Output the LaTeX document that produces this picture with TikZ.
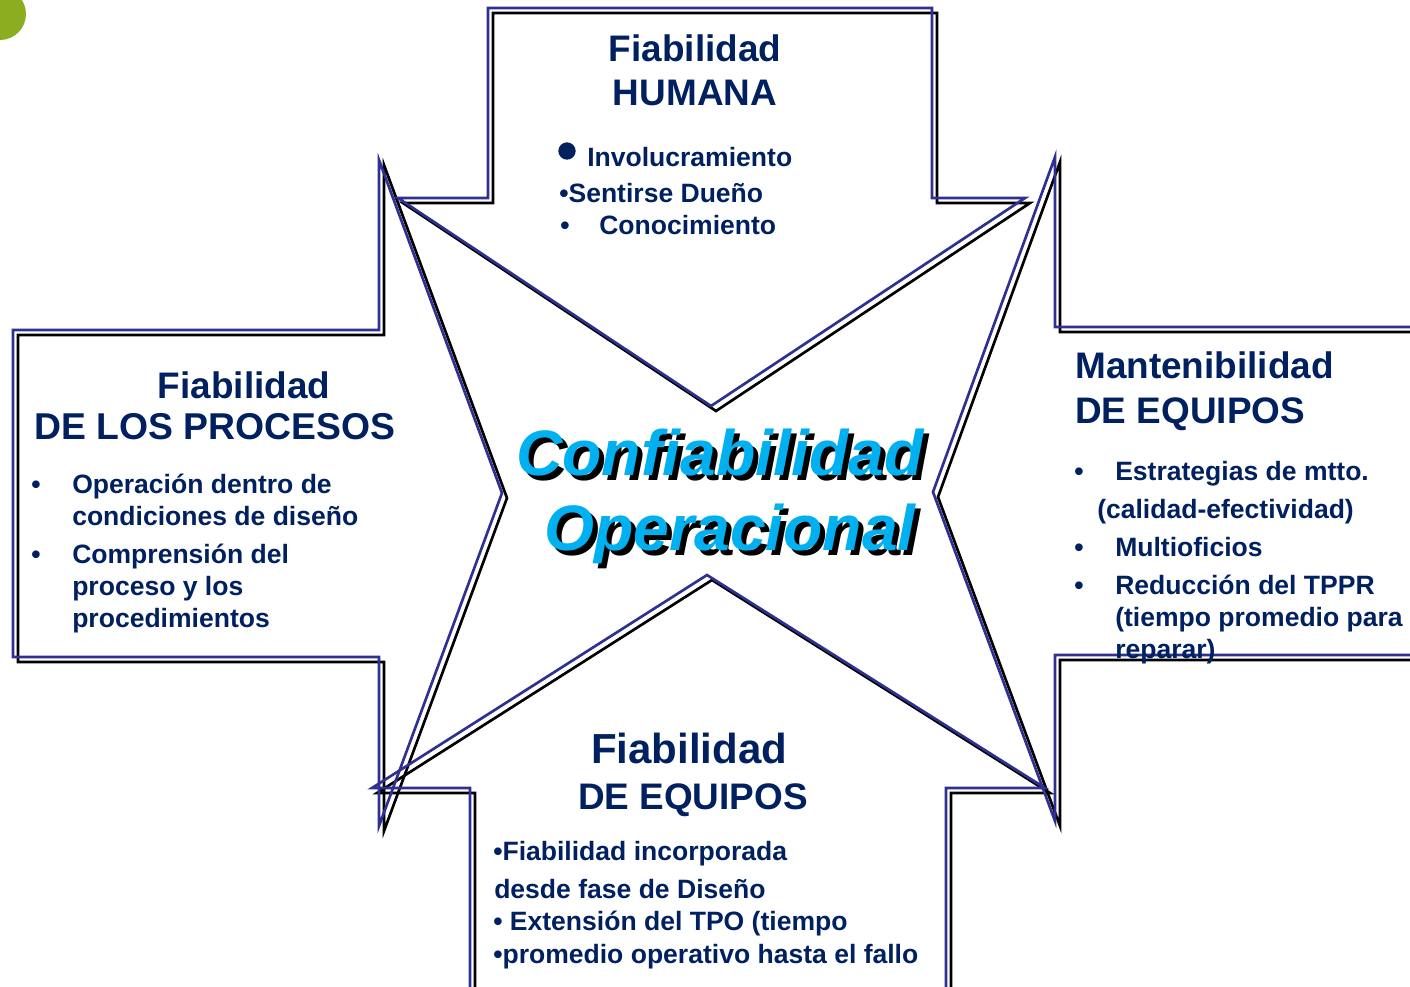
\documentclass[tikz,border=0pt]{standalone}
\usepackage{fontspec}
\setmainfont{Liberation Sans}
\definecolor{navyline}{RGB}{46,49,146}
\definecolor{navytext}{RGB}{0,32,96}
\definecolor{cyantext}{RGB}{0,176,240}
\definecolor{olivegreen}{RGB}{141,173,32}
\newcommand\myarrowshapes[1]{%
  \draw[#1] (488,8) -- (932,8) -- (932,198) -- (1025,198) -- (711,406) -- (398,198) -- (488,198) -- cycle;
  \draw[#1] (13,330) -- (379,330) -- (379,160) -- (502,493) -- (379,826) -- (379,657) -- (13,657) -- cycle;
  \draw[#1] (1430,327) -- (1055,327) -- (1055,157) -- (933,492) -- (1055,821) -- (1055,655) -- (1430,655);
  \draw[#1] (470,1010) -- (470,788) -- (372,788) -- (707,575) -- (1045,788) -- (946,788) -- (946,1010);
}
\tikzset{
  outline/.style={line width=2pt, line join=miter},
  body/.style={inner sep=0pt, anchor=base west, text=navytext, font=\bfseries\fontsize{19.9pt}{24pt}\selectfont},
  title/.style={inner sep=0pt, text=navytext, font=\bfseries\fontsize{27.7pt}{32pt}\selectfont},
  big/.style={inner sep=0pt, anchor=base west, font=\bfseries\itshape\fontsize{48.2pt}{56pt}\selectfont},
}
\begin{document}
\begin{tikzpicture}[x=0.75pt,y=-0.75pt]
\useasboundingbox (0,0) rectangle (1410,986);
\clip (0,0) rectangle (1410,986);
\fill[olivegreen] (0,14) circle (26);
% shadows then outlines
\begin{scope}[shift={(5,5)}]
  \myarrowshapes{outline, black}
\end{scope}
\myarrowshapes{outline, navyline}
% central title
\node[big, text=black] (c1s) at (521,480) {Confiabilidad};
\node[big, text=black] (c2s) at (549,555) {Operacional};
\node[big, text=cyantext] (c1) at (516,475) {Confiabilidad};
\node[big, text=cyantext] (c2) at (544,550) {Operacional};
% top
\node[title, anchor=base] (t1) at (695,61) {Fiabilidad};
\node[title, anchor=base] (t2) at (695,105) {HUMANA};
\node[circle, fill=navytext, inner sep=0pt, minimum size=13] (tb1) at (567,151) {};
\node[body] (t3) at (587,166) {Involucramiento};
\node[body] (t4) at (559,202) {•Sentirse Dueño};
\node[body] (tb3) at (560,234) {•};
\node[body] (t5) at (599,234) {Conocimiento};
% left
\node[title, anchor=base] (l1) at (244,398) {Fiabilidad};
\node[title, anchor=base west, font=\bfseries\fontsize{28pt}{32pt}\selectfont] (l2) at (34,439) {DE LOS PROCESOS};
\node[body] (lb1) at (31,493) {•};
\node[body] (l3) at (72,493) {Operación dentro de};
\node[body] (l4) at (72,525) {condiciones de diseño};
\node[body] (lb2) at (31,563) {•};
\node[body] (l5) at (72,563) {Comprensión del};
\node[body] (l6) at (72,595) {proceso y los};
\node[body] (l7) at (72,627) {procedimientos};
% right
\node[title, anchor=base west] (r1) at (1075,378) {Mantenibilidad};
\node[title, anchor=base west] (r2) at (1075,423) {DE EQUIPOS};
\node[body] (rb1) at (1074,480) {•};
\node[body] (r3) at (1115,480) {Estrategias de mtto.};
\node[body] (r4) at (1097,518) {(calidad-efectividad)};
\node[body] (rb2) at (1074,556) {•};
\node[body] (r5) at (1115,556) {Multioficios};
\node[body] (rb3) at (1074,594) {•};
\node[body] (r6) at (1115,594) {Reducción del TPPR};
\node[body] (r7) at (1115,626) {(tiempo promedio para};
\node[body] (r8) at (1115,658) {reparar)};
% bottom
\node[title, anchor=base, font=\bfseries\fontsize{31.5pt}{36pt}\selectfont] (b1) at (689,763) {Fiabilidad};
\node[title, anchor=base] (b2) at (693,809) {DE EQUIPOS};
\node[body] (b3) at (493,860) {•Fiabilidad incorporada};
\node[body] (b4) at (494,898) {desde fase de Diseño};
\node[body] (b5) at (493,930) {• Extensión del TPO (tiempo};
\node[body] (b6) at (493,963) {•promedio operativo hasta el fallo};
\end{tikzpicture}
\end{document}
